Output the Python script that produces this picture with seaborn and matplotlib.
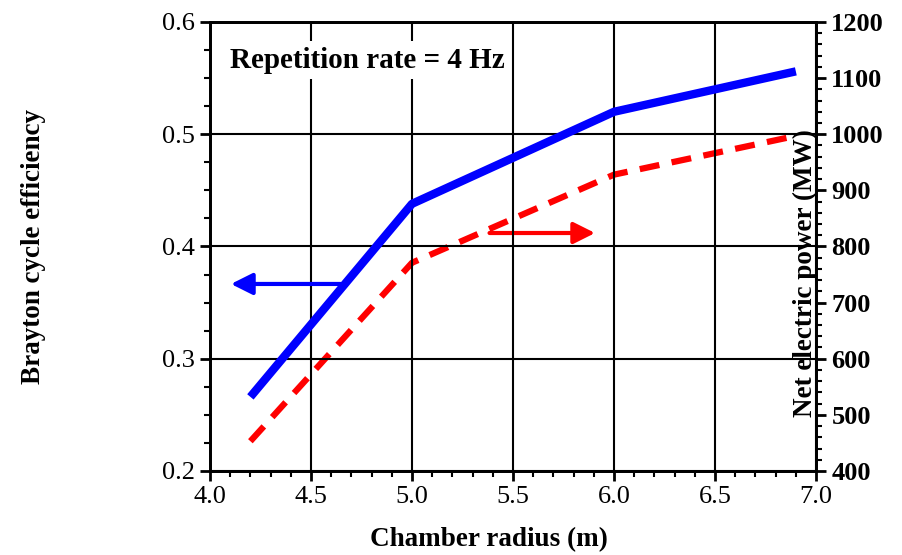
import matplotlib
matplotlib.use("Agg")
import matplotlib.pyplot as plt
import seaborn as sns
import pandas as pd
from matplotlib.ticker import MultipleLocator

radius = [4.2, 5.0, 6.0, 6.9]
efficiency = [0.266, 0.438, 0.520, 0.556]
power_mw = [453, 771, 928, 997]
title_text = "Repetition rate = 4 Hz"

sns.set_style("white")
plt.rcParams['font.family'] = ['Liberation Serif', 'DejaVu Serif']
plt.rcParams['text.color'] = 'black'
plt.rcParams['axes.labelcolor'] = 'black'
plt.rcParams['xtick.color'] = 'black'
plt.rcParams['ytick.color'] = 'black'

df = pd.DataFrame({"radius": radius, "eff": efficiency, "power": power_mw})

fig = plt.figure(figsize=(9.02, 5.55), dpi=100)
ax = fig.add_axes([0.2328, 0.1514, 0.6719, 0.809])
ax2 = ax.twinx()

sns.lineplot(data=df, x="radius", y="eff", ax=ax, color="#0000ff", lw=6,
             zorder=3)
ax.lines[0].set_solid_capstyle("butt")
sns.lineplot(data=df, x="radius", y="power", ax=ax2, color="#ff0000", lw=4.5,
             zorder=3)
ax2.lines[0].set_dashes((3.2, 2.0))
ax2.lines[0].set_dash_capstyle("butt")

ax.set_xlim(4.0, 7.0)
ax.set_ylim(0.2, 0.6)
ax2.set_ylim(400, 1200)

ax.xaxis.set_major_locator(MultipleLocator(0.5))
ax.xaxis.set_minor_locator(MultipleLocator(0.1))
ax.yaxis.set_major_locator(MultipleLocator(0.1))
ax.yaxis.set_minor_locator(MultipleLocator(0.025))
ax2.yaxis.set_major_locator(MultipleLocator(100))
ax2.yaxis.set_minor_locator(MultipleLocator(20))

ax.grid(True, which="major", color="black", lw=1.5, zorder=1)
ax.set_axisbelow(True)

for a in (ax, ax2):
    for s in a.spines.values():
        s.set_color("black")
        s.set_linewidth(2)
    a.tick_params(which="major", direction="out", length=7, width=2, color="black")
    a.tick_params(which="minor", direction="out", length=4, width=1.5, color="black")

ax.tick_params(axis="both", which="both", bottom=True, left=True, labelsize=19, pad=4)
ax2.tick_params(axis="y", which="both", right=True, labelsize=19, pad=4)
ax.set_xticks(ax.get_xticks())
ax.set_xticklabels([f"{v:.1f}" for v in ax.get_xticks()])
ax.set_yticks(ax.get_yticks())
ax.set_yticklabels([f"{v:.1f}" for v in ax.get_yticks()])
ax.set_xlim(4.0, 7.0)
ax.set_ylim(0.2, 0.6)
for lbl in ax2.get_yticklabels():
    lbl.set_fontweight("bold")

ax.set_xlabel("Chamber radius (m)", fontsize=19.5, fontweight="bold")
ax.xaxis.set_label_coords(0.46, -0.125)
ax.set_ylabel("Brayton cycle efficiency", fontsize=19.5, fontweight="bold")
ax.yaxis.set_label_coords(-0.27, 0.5)
ax2.set_ylabel("Net electric power (MW)", fontsize=19.5, fontweight="bold")
ax2.yaxis.set_label_coords(0.962, 0.441)

ax.text(4.099, 0.566, title_text, fontsize=21, fontweight="bold", ha="left", va="center",
        bbox=dict(facecolor="white", edgecolor="none", pad=4), zorder=5)

ax.annotate("", xy=(4.09, 0.3666), xytext=(4.66, 0.3666),
            arrowprops=dict(arrowstyle="-|>,head_length=1.3,head_width=0.65",
                            color="#0000ff", lw=3), zorder=4)
ax2.annotate("", xy=(5.92, 824), xytext=(5.37, 824),
             arrowprops=dict(arrowstyle="-|>,head_length=1.3,head_width=0.65",
                             color="#ff0000", lw=3), zorder=4)

ax.set_zorder(ax2.get_zorder() + 1)
ax.patch.set_visible(False)

fig.savefig("out.png", dpi=100)
